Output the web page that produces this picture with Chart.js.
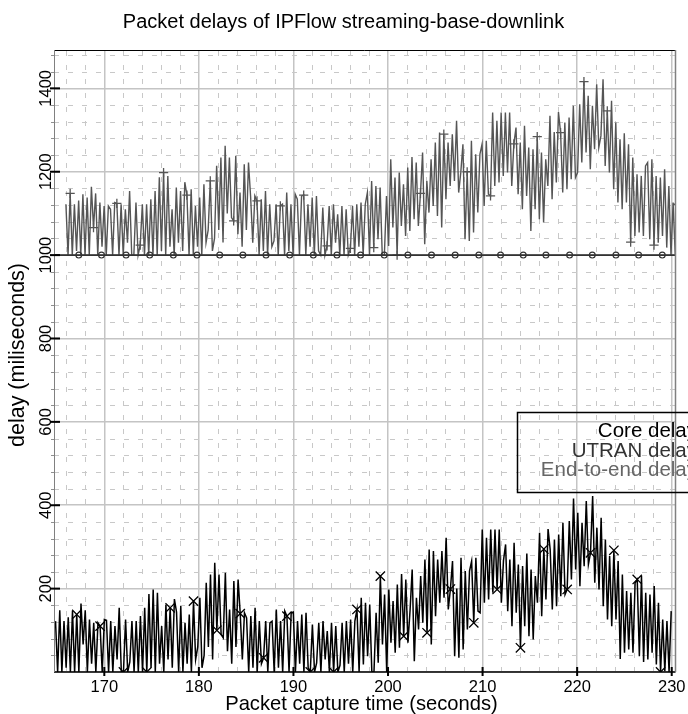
<!DOCTYPE html>
<html>
<head>
<meta charset="utf-8">
<title>Packet delays of IPFlow streaming-base-downlink</title>
<script src="https://cdn.jsdelivr.net/npm/chart.js@4.4.1/dist/chart.umd.min.js"></script>
<style>
  html, body { margin: 0; padding: 0; background: #fff; }
  #wrap { width: 688px; height: 714px; position: relative; }
</style>
</head>
<body>
<div id="wrap"><canvas id="delays"></canvas></div>
<script>
// capture timeline (seconds)
const sampleStart = 164.84;
const sampleStep = 0.2245;
// end-to-end samples are stamped later than the core ones
const endToEndLag = 1.1;

// core network delay per packet (ms)
const coreDelay = [
  122, 0, 148, 0, 122, 10, 131, 0, 146, 0,
  138, 0, 164, 66, 148, 0, 126, 20, 118, 0,
  118, 110, 0, 126, 124, 0, 122, 0, 110, 30,
  154, 0, 0, 126, 0, 24, 122, 0, 122, 0,
  134, 0, 154, 0, 187, 10, 198, 0, 190, 20,
  110, 0, 162, 30, 154, 10, 175, 144, 0, 158,
  0, 118, 20, 138, 0, 170, 30, 60, 178, 10,
  40, 214, 60, 234, 30, 262, 100, 234, 90, 82,
  238, 50, 150, 20, 218, 60, 222, 140, 30, 142,
  130, 0, 134, 10, 154, 0, 122, 20, 34, 122,
  0, 118, 122, 0, 150, 10, 122, 0, 146, 134,
  0, 142, 144, 0, 122, 20, 138, 0, 142, 10,
  0, 114, 0, 22, 118, 0, 122, 30, 98, 0,
  118, 0, 110, 0, 16, 118, 0, 122, 20, 126,
  0, 122, 150, 0, 178, 18, 166, 38, 162, 0,
  0, 142, 22, 230, 66, 186, 0, 198, 70, 170,
  46, 210, 58, 235, 86, 222, 70, 148, 246, 26,
  178, 102, 230, 118, 270, 94, 294, 66, 290, 134,
  270, 166, 290, 178, 322, 150, 199, 266, 38, 200,
  34, 274, 54, 242, 102, 242, 266, 118, 274, 146,
  142, 342, 166, 322, 174, 342, 190, 342, 198, 342,
  166, 267, 306, 146, 270, 110, 310, 142, 258, 58,
  254, 110, 284, 86, 246, 78, 230, 166, 334, 134,
  295, 174, 343, 294, 150, 318, 158, 330, 182, 358,
  186, 198, 362, 222, 416, 246, 382, 206, 358, 254,
  410, 258, 286, 422, 214, 346, 198, 370, 158, 318,
  126, 278, 110, 292, 126, 266, 31, 234, 46, 194,
  54, 190, 46, 214, 222, 38, 230, 24, 190, 30,
  186, 46, 206, 18, 166, 0, 126, 2, 122, 0,
  146
];

// UTRAN delay (ms), constant over the capture
const utranTimes = [
  164.6, 167.3, 169.7, 172.3, 174.8, 177.3, 179.8, 182.2, 184.65, 187.1,
  189.6, 192.1, 194.6, 197.1, 199.6, 202.1, 204.6, 207.1, 209.6, 211.9,
  214.3, 216.7, 219.2, 221.6, 224.1, 226.5, 229.0, 230.6
];
const utranDelay = [
  1000, 1000, 1000, 1000, 1000, 1000, 1000, 1000, 1000, 1000,
  1000, 1000, 1000, 1000, 1000, 1000, 1000, 1000, 1000, 1000,
  1000, 1000, 1000, 1000, 1000, 1000, 1000, 1000
];

const xTicks = [170, 180, 190, 200, 210, 220, 230];
const yTicks = [200, 400, 600, 800, 1000, 1200, 1400];
const seriesNames = ['Core delay', 'UTRAN delay', 'End-to-end delay'];
const seriesColors = ['#000000', '#333333', '#555555'];
const legendColors = ['#000000', '#333333', '#666666'];

const FONT = '"Liberation Sans", Arial, Helvetica, sans-serif';
Chart.defaults.font.family = FONT;

const coreData = coreDelay.map((v, i) => ({ x: sampleStart + i * sampleStep, y: v }));
const endToEndData = coreDelay.map((v, i) => ({
  x: sampleStart + endToEndLag + i * sampleStep,
  y: utranDelay[0] + v
}));
const utranData = utranTimes.map((t, i) => ({ x: t, y: utranDelay[i] }));

// dashed minor grid, frame, ticks, text and the legend box
const framePlugin = {
  id: 'frame',
  beforeDatasetsDraw(chart) {
    const { ctx, chartArea: a, scales: { x, y } } = chart;
    ctx.save();
    ctx.strokeStyle = '#c8c8c8';
    ctx.lineWidth = 1;
    ctx.setLineDash([5, 9]);
    for (let t = 166; t < x.max; t += 2) {
      if (t % 10 === 0) continue;
      const px = Math.round(x.getPixelForValue(t)) + 0.5;
      ctx.beginPath();
      ctx.moveTo(px, a.bottom);
      ctx.lineTo(px, a.top);
      ctx.stroke();
    }
    for (let v = 40; v < y.max; v += 40) {
      if (v % 200 === 0) continue;
      const py = Math.round(y.getPixelForValue(v)) + 0.5;
      ctx.beginPath();
      ctx.moveTo(a.left, py);
      ctx.lineTo(a.right, py);
      ctx.stroke();
    }
    ctx.restore();
  },
  afterDatasetsDraw(chart) {
    const { ctx, chartArea: a, scales: { x, y } } = chart;
    ctx.save();

    // frame
    ctx.lineWidth = 1;
    ctx.strokeStyle = '#000';
    ctx.beginPath();
    ctx.moveTo(a.left, a.top + 0.5);
    ctx.lineTo(a.right, a.top + 0.5);
    ctx.stroke();
    ctx.lineWidth = 1.3;
    ctx.beginPath();
    ctx.moveTo(a.left, a.bottom);
    ctx.lineTo(a.right, a.bottom);
    ctx.stroke();
    ctx.strokeStyle = '#808080';
    ctx.lineWidth = 1;
    ctx.beginPath();
    ctx.moveTo(a.left + 0.5, a.top);
    ctx.lineTo(a.left + 0.5, a.bottom);
    ctx.stroke();
    ctx.lineWidth = 1.5;
    ctx.beginPath();
    ctx.moveTo(a.right, a.top);
    ctx.lineTo(a.right, a.bottom);
    ctx.stroke();

    // minor ticks on the delay axis
    ctx.strokeStyle = '#909090';
    ctx.lineWidth = 1;
    for (let v = 40; v < y.max; v += 40) {
      if (v % 200 === 0) continue;
      const py = Math.round(y.getPixelForValue(v)) + 0.5;
      ctx.beginPath();
      ctx.moveTo(a.left - 3, py);
      ctx.lineTo(a.left, py);
      ctx.stroke();
    }

    // major ticks
    ctx.fillStyle = '#000';
    yTicks.forEach(v => {
      const py = y.getPixelForValue(v);
      ctx.fillRect(a.left - 4, py - 1, 10, 2);
    });
    xTicks.forEach(t => {
      const px = x.getPixelForValue(t);
      ctx.fillRect(px - 1, a.bottom - 5, 2, 9);
    });

    // tick labels
    ctx.fillStyle = '#000';
    ctx.font = '16.5px ' + FONT;
    ctx.textAlign = 'center';
    ctx.textBaseline = 'alphabetic';
    xTicks.forEach(t => {
      ctx.fillText(String(t), x.getPixelForValue(t), 692);
    });
    yTicks.forEach(v => {
      ctx.save();
      ctx.translate(a.left - 3, y.getPixelForValue(v));
      ctx.rotate(-Math.PI / 2);
      ctx.fillText(String(v), 0, 0);
      ctx.restore();
    });

    // axis titles and chart title
    ctx.font = '20.2px ' + FONT;
    ctx.fillText('Packet capture time (seconds)', 361.5, 710);
    ctx.font = '20px ' + FONT;
    ctx.fillText('Packet delays of IPFlow streaming-base-downlink', 343.5, 28);
    ctx.font = '21.5px ' + FONT;
    ctx.save();
    ctx.translate(24, 355);
    ctx.rotate(-Math.PI / 2);
    ctx.fillText('delay (miliseconds)', 0, 0);
    ctx.restore();

    // legend box, running past the right edge
    ctx.strokeStyle = '#000';
    ctx.lineWidth = 1.5;
    ctx.strokeRect(517.5, 412.5, 220, 80);
    ctx.font = '20.5px ' + FONT;
    ctx.textAlign = 'right';
    const rows = [437, 457, 476];
    seriesNames.forEach((name, i) => {
      ctx.fillStyle = legendColors[i];
      ctx.fillText(name, 697, rows[i]);
    });

    ctx.restore();
  }
};

new Chart(document.getElementById('delays'), {
  type: 'line',
  data: {
    datasets: [
      {
        label: seriesNames[0],
        data: coreData,
        borderColor: seriesColors[0],
        borderWidth: 1.5,
        pointStyle: 'crossRot',
        pointRadius: c => (c.dataIndex % 11 === 10 ? 6.6 : 0),
        pointBorderColor: seriesColors[0],
        pointBorderWidth: 1.3,
        pointBackgroundColor: 'rgba(0,0,0,0)'
      },
      {
        label: seriesNames[1],
        data: utranData,
        borderColor: seriesColors[1],
        borderWidth: 1.6,
        pointStyle: 'circle',
        pointRadius: c => (c.dataIndex === 0 || c.dataIndex === utranTimes.length - 1 ? 0 : 2.9),
        pointBorderColor: seriesColors[1],
        pointBorderWidth: 1.2,
        pointBackgroundColor: 'rgba(255,255,255,0)'
      },
      {
        label: seriesNames[2],
        data: endToEndData,
        borderColor: seriesColors[2],
        borderWidth: 1.4,
        pointStyle: 'cross',
        pointRadius: c => (c.dataIndex % 11 === 2 ? 4.6 : 0),
        pointBorderColor: seriesColors[2],
        pointBorderWidth: 1.3,
        pointBackgroundColor: 'rgba(0,0,0,0)'
      }
    ]
  },
  options: {
    responsive: true,
    maintainAspectRatio: false,
    animation: false,
    events: [],
    layout: { padding: { left: 54, top: 50, right: 12.5, bottom: 42 } },
    plugins: {
      legend: { display: false },
      title: { display: false },
      tooltip: { enabled: false }
    },
    elements: { line: { tension: 0 } },
    scales: {
      x: {
        type: 'linear',
        min: 164.68,
        max: 230.4,
        ticks: { display: false, stepSize: 10, includeBounds: false },
        grid: { color: '#c4c4c4', lineWidth: 1.5, drawTicks: false },
        border: { display: false }
      },
      y: {
        type: 'linear',
        min: 0,
        max: 1492,
        ticks: { display: false, stepSize: 200, includeBounds: false },
        grid: { color: '#c4c4c4', lineWidth: 1.5, drawTicks: false },
        border: { display: false }
      }
    }
  },
  plugins: [framePlugin]
});
</script>
</body>
</html>
